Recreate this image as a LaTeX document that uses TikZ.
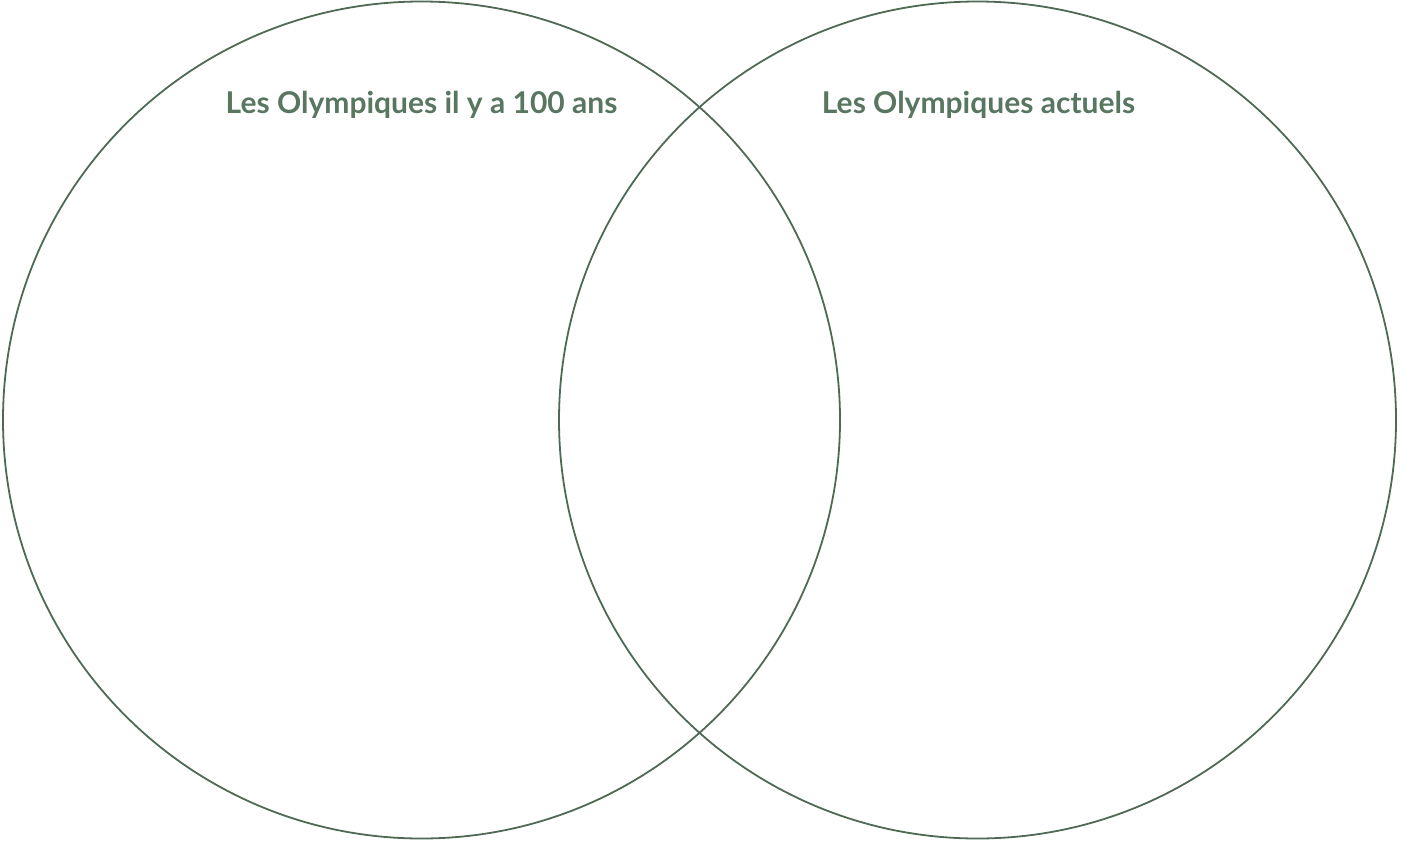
\documentclass[tikz,border=0pt]{standalone}
\usepackage{fontspec}
\setmainfont{Lato}
\definecolor{VENNgreen}{HTML}{4E6A55}
\definecolor{VENNtext}{HTML}{587660}
\usetikzlibrary{positioning}

\begin{document}
\begin{tikzpicture}[x=1pt, y=-1pt,
   venn/.style={circle, draw=VENNgreen, line width=1.8pt, minimum size=837pt, inner sep=0pt},
   title/.style={text=VENNtext, font=\fontsize{30}{36}\selectfont\bfseries, anchor=base}]
            \useasboundingbox (0,0) rectangle (1404,846);
            % Circles
            \node[venn] (old) at (421.5,420) {};
            \node[venn] (now) at (977.5,420) {};
            % Titles
            \node[title] (oldtitle) at (421.5,113) {Les Olympiques il y a 100 ans};
            \node[title] (nowtitle) at (978.5,113) {Les Olympiques actuels};
         \end{tikzpicture}
\end{document}
